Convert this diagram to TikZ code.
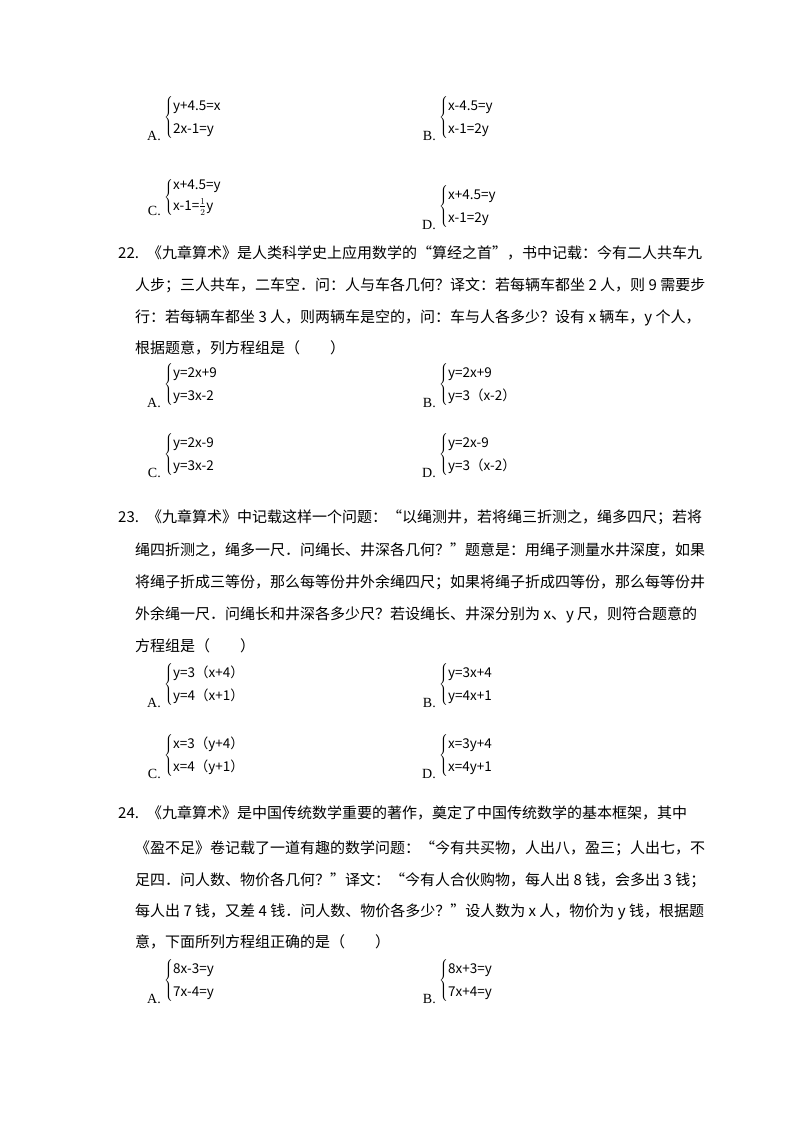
\documentclass[tikz,border=0pt]{standalone}
\usepackage{fontspec}
\setmainfont{Liberation Serif}
\newfontfamily\cjk{Noto Sans CJK SC}
\usetikzlibrary{positioning}
\tikzset{
  line/.style   = {anchor=base west, inner sep=0pt, font=\cjk\fontsize{15}{18}\selectfont},
  sys/.style    = {anchor=west, inner sep=0pt, font=\cjk\fontsize{13.5}{16}\selectfont},
  optlab/.style = {anchor=base east, inner sep=0pt, font=\fontsize{14}{16}\selectfont},
}
\newcommand{\eqsys}[2]{$\left\{\renewcommand{\arraystretch}{1.45}\begin{array}{@{}l@{}}\mbox{#1}\\\mbox{#2}\end{array}\right.$}
\begin{document}
\begin{tikzpicture}[x=1pt,y=-1pt]
    \useasboundingbox (0,0) rectangle (800,1132);
    % question 21 options
    \node[sys] (q21a) at (164,117) {\eqsys{y+4.5=x}{2x-1=y}};
    \node[optlab, left=3pt of q21a.south west, anchor=south east] (l21a) {A.};
    \node[sys] (q21b) at (439,117) {\eqsys{x-4.5=y}{x-1=2y}};
    \node[optlab, left=3pt of q21b.south west, anchor=south east] (l21b) {B.};
    \node[sys] (q21c) at (164,197) {$\left\{\begin{array}{@{}l@{}}\mbox{x+4.5=y}\\[4pt]\mbox{x-1=}\frac{1}{2}\mbox{y}\end{array}\right.$};
    \node[optlab, left=3pt of q21c.south west, anchor=south east] (l21c) {C.};
    \node[sys] (q21d) at (439,206) {\eqsys{x+4.5=y}{x-1=2y}};
    \node[optlab, left=3pt of q21d.south west, anchor=south east] (l21d) {D.};
    % question 22
    \node[line] (q22n) at (118,258) {22.};
    \node[line] (q22a) at (147,258) {《九章算术》是人类科学史上应用数学的“算经之首”，书中记载：今有二人共车九};
    \node[line] (q22b) at (135,290) {人步；三人共车，二车空．问：人与车各几何？译文：若每辆车都坐 2 人，则 9 需要步};
    \node[line] (q22c) at (135,322) {行：若每辆车都坐 3 人，则两辆车是空的，问：车与人各多少？设有 \textit{x} 辆车，\textit{y} 个人，};
    \node[line] (q22d) at (135,353) {根据题意，列方程组是（\qquad）};
    \node[sys] (q22oa) at (164,384) {\eqsys{y=2x+9}{y=3x-2}};
    \node[optlab, left=3pt of q22oa.south west, anchor=south east] (l22a) {A.};
    \node[sys] (q22ob) at (439,384) {\eqsys{y=2x+9}{y=3（x-2）}};
    \node[optlab, left=3pt of q22ob.south west, anchor=south east] (l22b) {B.};
    \node[sys] (q22oc) at (164,454) {\eqsys{y=2x-9}{y=3x-2}};
    \node[optlab, left=3pt of q22oc.south west, anchor=south east] (l22c) {C.};
    \node[sys] (q22od) at (439,454) {\eqsys{y=2x-9}{y=3（x-2）}};
    \node[optlab, left=3pt of q22od.south west, anchor=south east] (l22d) {D.};
    % question 23
    \node[line] (q23n) at (118,522) {23.};
    \node[line] (q23a) at (147,522) {《九章算术》中记载这样一个问题：“以绳测井，若将绳三折测之，绳多四尺；若将};
    \node[line] (q23b) at (135,555) {绳四折测之，绳多一尺．问绳长、井深各几何？”题意是：用绳子测量水井深度，如果};
    \node[line] (q23c) at (135,587) {将绳子折成三等份，那么每等份井外余绳四尺；如果将绳子折成四等份，那么每等份井};
    \node[line] (q23d) at (135,619) {外余绳一尺．问绳长和井深各多少尺？若设绳长、井深分别为 \textit{x}、\textit{y} 尺，则符合题意的};
    \node[line] (q23e) at (135,651) {方程组是（\qquad）};
    \node[sys] (q23oa) at (164,684) {\eqsys{y=3（x+4）}{y=4（x+1）}};
    \node[optlab, left=3pt of q23oa.south west, anchor=south east] (l23a) {A.};
    \node[sys] (q23ob) at (439,684) {\eqsys{y=3x+4}{y=4x+1}};
    \node[optlab, left=3pt of q23ob.south west, anchor=south east] (l23b) {B.};
    \node[sys] (q23oc) at (164,755) {\eqsys{x=3（y+4）}{x=4（y+1）}};
    \node[optlab, left=3pt of q23oc.south west, anchor=south east] (l23c) {C.};
    \node[sys] (q23od) at (439,755) {\eqsys{x=3y+4}{x=4y+1}};
    \node[optlab, left=3pt of q23od.south west, anchor=south east] (l23d) {D.};
    % question 24
    \node[line] (q24n) at (118,818) {24.};
    \node[line] (q24a) at (147,818) {《九章算术》是中国传统数学重要的著作，奠定了中国传统数学的基本框架，其中};
    \node[line] (q24b) at (135,853) {《盈不足》卷记载了一道有趣的数学问题：“今有共买物，人出八，盈三；人出七，不};
    \node[line] (q24c) at (135,885) {足四．问人数、物价各几何？”译文：“今有人合伙购物，每人出 8 钱，会多出 3 钱；};
    \node[line] (q24d) at (135,916) {每人出 7 钱，又差 4 钱．问人数、物价各多少？”设人数为 \textit{x} 人，物价为 \textit{y} 钱，根据题};
    \node[line] (q24e) at (135,947) {意，下面所列方程组正确的是（\qquad）};
    \node[sys] (q24oa) at (164,980) {\eqsys{8x-3=y}{7x-4=y}};
    \node[optlab, left=3pt of q24oa.south west, anchor=south east] (l24a) {A.};
    \node[sys] (q24ob) at (439,980) {\eqsys{8x+3=y}{7x+4=y}};
    \node[optlab, left=3pt of q24ob.south west, anchor=south east] (l24b) {B.};
\end{tikzpicture}
\end{document}
